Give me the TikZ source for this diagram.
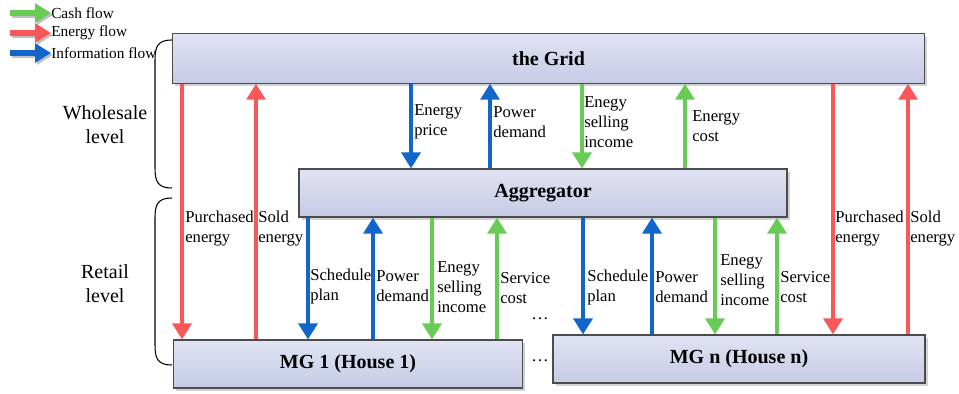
\documentclass[tikz,border=0pt]{standalone}
\usepackage{fontspec}
\setmainfont{LiberationSerif}[Extension=.ttf,UprightFont=*-Regular,BoldFont=*-Bold,ItalicFont=*-Italic,BoldItalicFont=*-BoldItalic]
\usetikzlibrary{arrows.meta,shadows}

\definecolor{cashgreen}{RGB}{102,204,85}
\definecolor{enered}{RGB}{250,88,88}
\definecolor{infoblue}{RGB}{17,102,204}
\definecolor{boxtop}{RGB}{224,227,243}
\definecolor{boxbot}{RGB}{198,203,230}

\tikzset{
  box/.style={draw=black!70,line width=0.8pt,top color=boxtop,bottom color=boxbot,
    drop shadow={shadow xshift=2pt,shadow yshift=-2pt,fill=black!35},
    font=\fontsize{15}{18}\selectfont\bfseries,inner sep=0pt},
  flow/.style={line width=3.6pt,-{Triangle[length=12pt,width=14pt]}},
  cash/.style={flow,cashgreen},
  energy/.style={flow,enered},
  info/.style={flow,infoblue},
  lbl/.style={anchor=west,inner sep=0pt,align=left,font=\fontsize{12.5}{15}\selectfont},
  lvl/.style={inner sep=0pt,align=center,font=\fontsize{15}{18}\selectfont},
  legtxt/.style={anchor=west,inner sep=0pt,font=\fontsize{11.5}{13}\selectfont},
}

\begin{document}
\begin{tikzpicture}[x=0.75pt,y=-0.75pt]
          %\draw[very thin,lightgray,step=50] (0,0) grid (959,393);
          \useasboundingbox (0,0) rectangle (959,393);
          \node[box,minimum width=564pt,minimum height=37pt] (thegrid) at (548.5,58.5) {the Grid};
          \node[box,minimum width=366pt,minimum height=36pt] (agg) at (543,193) {Aggregator};
          \node[box,minimum width=262pt,minimum height=36pt] (mg1) at (348,364) {MG 1 (House 1)};
          \node[box,minimum width=279pt,minimum height=36pt] (mgn) at (739,359) {MG n (House n)};
          % downward flows
          \foreach \x/\a/\b/\s in {182/thegrid/mg1/energy,833/thegrid/mgn/energy,
              411/thegrid/agg/info,582/thegrid/agg/cash,
              308/agg/mg1/info,432/agg/mg1/cash,583/agg/mgn/info,715/agg/mgn/cash}
            \draw[\s] (\a.south -| \x,0) -- (\b.north -| \x,0);
          % upward flows
          \foreach \x/\a/\b/\s in {256/thegrid/mg1/energy,908/thegrid/mgn/energy,
              490/thegrid/agg/info,685/thegrid/agg/cash,
              373/agg/mg1/info,497/agg/mg1/cash,652/agg/mgn/info,777/agg/mgn/cash}
            \draw[\s] (\b.north -| \x,0) -- (\a.south -| \x,0);
          \node[lbl] (pe1) at (185,229) {Purchased\\energy};
          \node[lbl] (se1) at (258,229) {Sold\\energy};
          \node[lbl] (pe2) at (835,229) {Purchased\\energy};
          \node[lbl] (se2) at (910,229) {Sold\\energy};
          \node[lbl] (ep) at (414,122) {Energy\\price};
          \node[lbl] (pd0) at (493,122) {Power\\demand};
          \node[lbl] (esi0) at (584,122) {Enegy\\selling\\income};
          \node[lbl] (ec) at (692,126) {Energy\\cost};
          \node[lbl] (sp1) at (310,286) {Schedule\\plan};
          \node[lbl] (pd1) at (376,286) {Power\\demand};
          \node[lbl] (esi1) at (437,287) {Enegy\\selling\\income};
          \node[lbl] (sc1) at (500,288) {Service\\cost};
          \node[lbl] (sp2) at (587,287) {Schedule\\plan};
          \node[lbl] (pd2) at (655,287) {Power\\demand};
          \node[lbl] (esi2) at (720,280) {Enegy\\selling\\income};
          \node[lbl] (sc2) at (780,287) {Service\\cost};
          \node[inner sep=0pt,font=\fontsize{13}{15}\selectfont] (dots1) at (540,319) {\dots};
          \node[inner sep=0pt,font=\fontsize{13}{15}\selectfont] (dots2) at (540,361) {\dots};
          % levels
          \draw[line width=0.8pt] (172,40) .. controls (158,40) and (155,46) .. (155,60) -- (155,168)
            .. controls (155,182) and (158,188) .. (172,188);
          \draw[line width=0.8pt] (172,198) .. controls (158,198) and (155,204) .. (155,218) -- (155,345)
            .. controls (155,359) and (158,365) .. (172,365);
          \node[lvl] (whole) at (105,125) {Wholesale\\level};
          \node[lvl] (retail) at (105,284) {Retail\\level};
          % legend
          \foreach \y/\s/\t/\n in {13/cash/Cash flow/lcash,33/energy/Energy flow/lenergy,
              53/info/Information flow/linfo}{
            \node[legtxt] (\n) at (51,\y) {\t};
            \coordinate (\n0) at (10,\y);
            \draw[\s,line width=5pt,black!25,transform canvas={xshift=1.5pt,yshift=-1.5pt}] (\n0) -- (\n.west);
            \draw[\s,line width=5pt] (\n0) -- (\n.west);
          }
        \end{tikzpicture}
\end{document}
